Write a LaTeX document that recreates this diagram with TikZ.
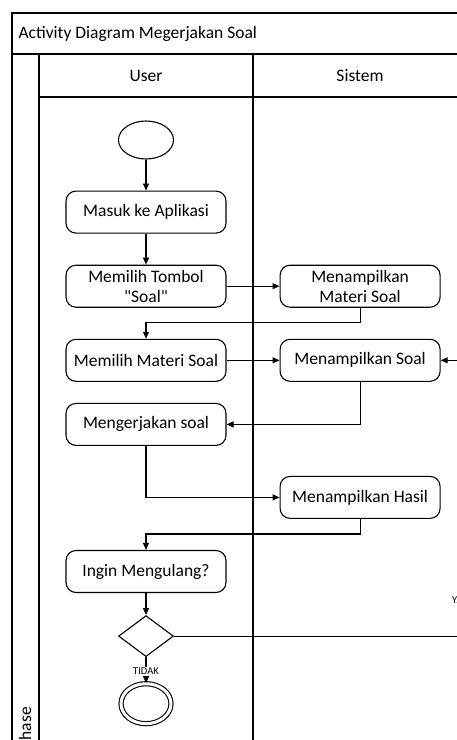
\documentclass[tikz,border=0pt]{standalone}
\usepackage{fontspec}
\setmainfont{Carlito}
\usetikzlibrary{shapes.geometric, arrows.meta, positioning}

\begin{document}
\begin{tikzpicture}[
    x=1pt, y=-1pt,
    font=\fontsize{17.5}{20}\selectfont,
    node distance=31pt and 53pt,
    act/.style={rectangle, rounded corners=10pt, draw=black, line width=1.1pt,
                minimum width=160pt, minimum height=42pt,
                align=center, inner sep=2pt},
    startnode/.style={ellipse, draw=black, line width=1.1pt,
                minimum width=55pt, minimum height=38pt, inner sep=0pt},
    endnode/.style={ellipse, draw=black, line width=1.1pt, double,
                double distance=3pt, minimum width=50pt, minimum height=40pt,
                inner sep=0pt},
    decision/.style={diamond, draw=black, line width=1.1pt,
                minimum width=55pt, minimum height=41pt, inner sep=0pt},
    arrow/.style={-{Triangle[length=7pt, width=6pt]}, line width=1.1pt},
    lane/.style={line width=1.4pt},
    guard/.style={font=\fontsize{10.5}{12}\selectfont, fill=white, inner sep=1pt}
]
\useasboundingbox (0,0) rectangle (457,740);
\clip (0,0) rectangle (457,740);

% Frame and swimlanes
\draw[lane] (12,13) rectangle (467,770);
\draw[lane] (12,54) -- (467,54);
\draw[lane] (39,54) -- (39,770);
\draw[lane] (39,97) -- (467,97);
\draw[line width=2.2pt] (253,54) -- (253,770);

\node[anchor=west] (judul) at (15,34) {Activity Diagram Megerjakan Soal};
\node (user) at (146,76) {User};
\node (sistem) at (360,76) {Sistem};
\node[rotate=90, anchor=east, inner sep=0pt] (phase) at (25,707) {Phase};

% User / Sistem activities
\node[startnode] (mulai) at (146,140) {};
\node[act, below=31pt of mulai] (masuk) {Masuk ke Aplikasi};
\node[act, below=31pt of masuk] (tombol) {Memilih Tombol\\\textquotedbl Soal\textquotedbl};
\node[act, right=53pt of tombol] (materi) {Menampilkan\\Materi Soal};
\node[act, below=31pt of tombol] (pilihMateri) {Memilih Materi Soal};
\node[act, right=53pt of pilihMateri] (tampilSoal) {Menampilkan Soal};
\node[act, below=21pt of pilihMateri] (kerjakan) {Mengerjakan soal};
\node[act, below=94pt of tampilSoal] (hasil) {Menampilkan Hasil};
\node[act, below=104pt of kerjakan] (ulang) {Ingin Mengulang?};
\node[decision, below=22pt of ulang] (pilih) {};
\node[endnode, below=26pt of pilih] (akhir) {};

\node[guard, anchor=west, fill=none] (ya) at (451,600) {YA};

% Flow
\draw[arrow] (mulai) -- (masuk);
\draw[arrow] (masuk) -- (tombol);
\draw[arrow] (tombol) -- (materi);
\draw[arrow] (materi.south) -- ++(0,15) -| (pilihMateri.north);
\draw[arrow] (pilihMateri) -- (tampilSoal);
\draw[arrow] (tampilSoal.south) |- (kerjakan.east);
\draw[arrow] (kerjakan.south) |- (hasil.west);
\draw[arrow] (hasil.south) -- ++(0,15) -| (ulang.north);
\draw[arrow] (ulang) -- (pilih);
\draw[arrow] (pilih.east) -- ++(300,0) |- (tampilSoal.east);
\draw[arrow] (pilih.south) -- node[guard, pos=0.55]{TIDAK} (akhir.north);

\end{tikzpicture}
\end{document}
